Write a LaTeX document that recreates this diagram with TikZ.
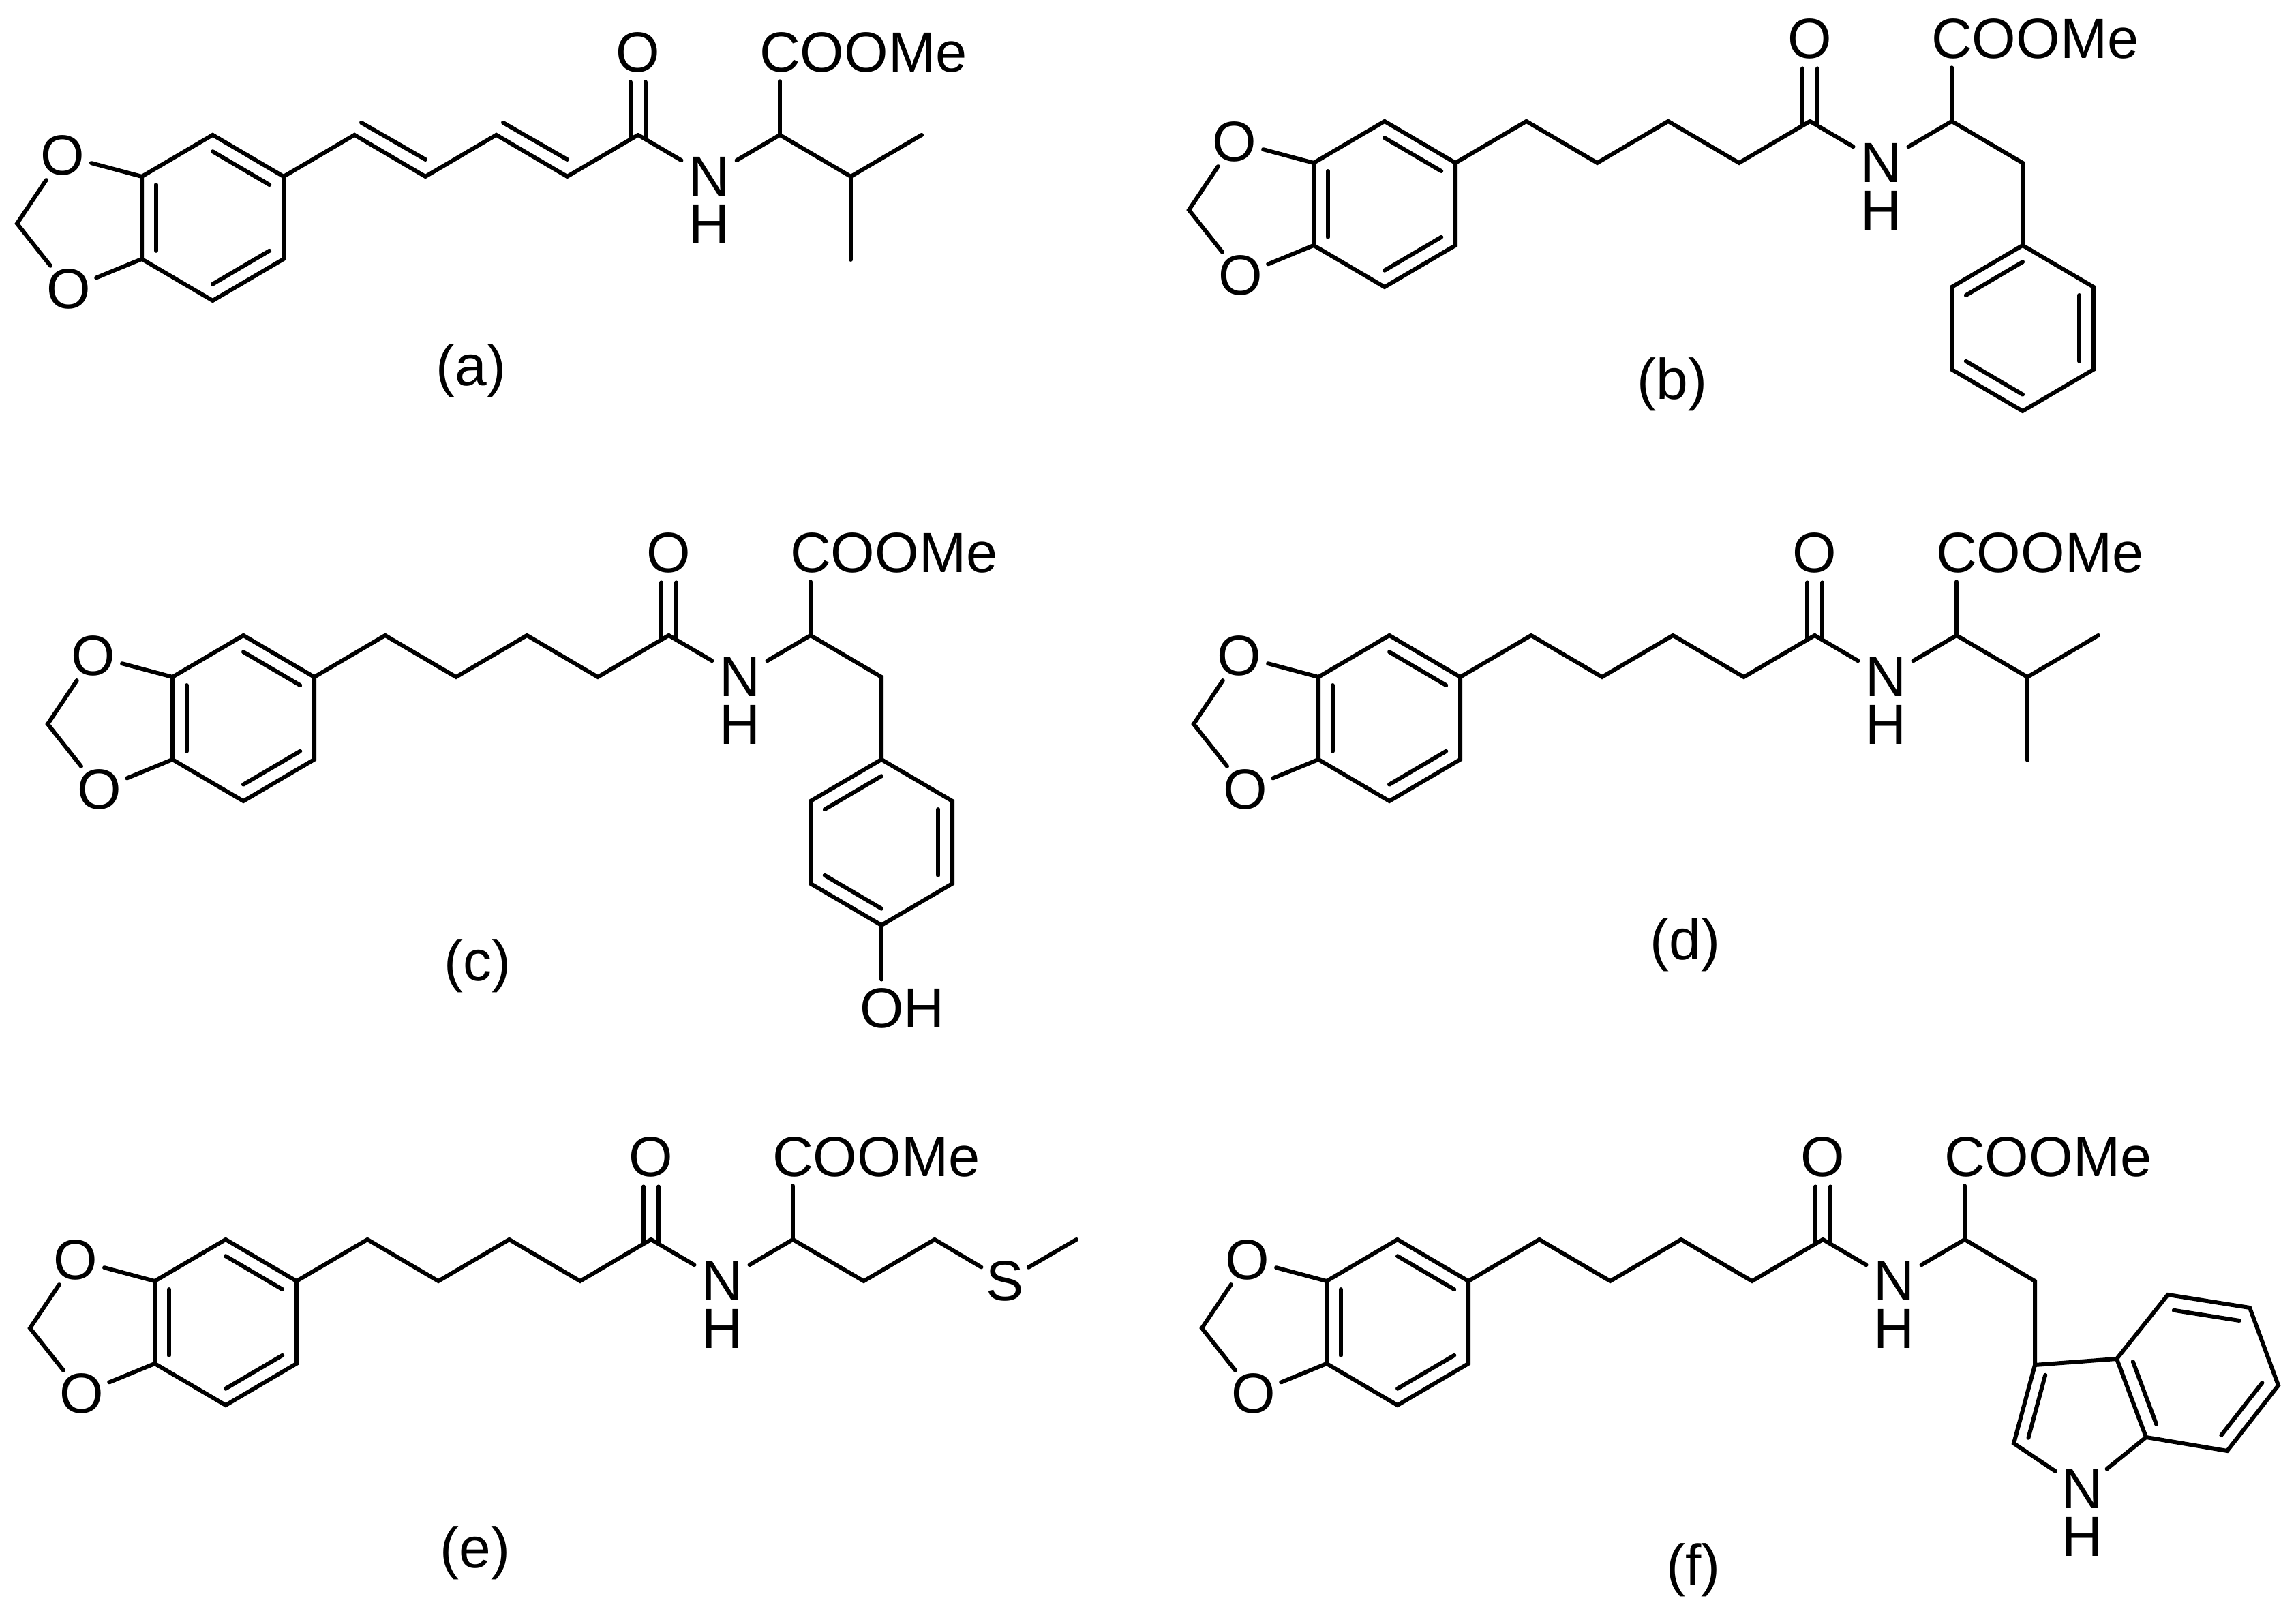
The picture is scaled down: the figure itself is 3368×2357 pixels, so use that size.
\documentclass[tikz,border=0pt]{standalone}
\usepackage{fontspec}
\setmainfont{Liberation Sans}
\usetikzlibrary{calc}

\tikzset{
        atom/.style={circle, inner sep=0pt, outer sep=0pt, font=\fontsize{8.3}{10}\selectfont},
        nitro/.style={atom, inner sep=0.4pt},
        group/.style={rectangle, inner xsep=0pt, inner ysep=1.3pt, outer sep=0pt, font=\fontsize{8.3}{10}\selectfont},
        tag/.style={rectangle, inner sep=0pt, font=\fontsize{8.4}{10}\selectfont},
        bond/.style={draw=black, line width=0.6pt, line cap=round}
}

\newcommand{\innerbond}[3]{\draw[bond] ($(#1)!0.8!(#2)$) -- ($(#1)!0.8!(#3)$);}

\newcommand{\headgroup}{
        \coordinate (ar1) at (0,0);
        \coordinate (ar2) at (104,61);
        \coordinate (ar3) at (208,0);
        \coordinate (ar4) at (208,-121);
        \coordinate (ar5) at (104,-182);
        \coordinate (ar6) at (0,-121);
        \coordinate (arc) at (104,-60.5);
        \coordinate (mth) at (-183,-69);
        \node[atom] (ox1) at (-116,31) {O};
        \node[atom] (ox2) at (-107,-165) {O};
        \draw[bond] (ar1) -- (ar2) -- (ar3) -- (ar4) -- (ar5) -- (ar6) -- cycle;
        \draw[bond] (ar1) -- (ox1);
        \draw[bond] (ar6) -- (ox2);
        \draw[bond] (ox1) -- (mth) -- (ox2);
        \innerbond{arc}{ar1}{ar6}
        \innerbond{arc}{ar2}{ar3}
        \innerbond{arc}{ar4}{ar5}
        \coordinate (ch1) at (312,61);
        \coordinate (ch2) at (416,0);
        \coordinate (ch3) at (520,61);
        \coordinate (ch4) at (624,0);
        \coordinate (cab) at (728,61);
        \coordinate (cal) at (936,61);
        \node[atom] (oxc) at (728,182) {O};
        \node[nitro] (nit) at (832,0) {N};
        \node[atom] (hyd) at (832,-70) {H};
        \node[group, anchor=west] (est) at (906,182) {COOMe};
        \draw[bond] (ar3) -- (ch1) -- (ch2) -- (ch3) -- (ch4) -- (cab);
        \draw[bond] (cab) -- (nit) -- (cal);
        \draw[bond] (cal) -- (cal |- est.south);
        \draw[bond] ([xshift=-1.1pt]oxc.south) -- ([xshift=-1.1pt,yshift=-0.6pt]cab);
        \draw[bond] ([xshift=1.1pt]oxc.south) -- ([xshift=1.1pt,yshift=-0.6pt]cab);
}

\newcommand{\sidering}{
        \coordinate (cbe) at (1040,0);
        \coordinate (ph1) at (1040,-121);
        \coordinate (ph2) at (936,-182);
        \coordinate (ph3) at (936,-303);
        \coordinate (ph4) at (1040,-364);
        \coordinate (ph5) at (1144,-303);
        \coordinate (ph6) at (1144,-182);
        \coordinate (phc) at (1040,-242.5);
        \draw[bond] (cal) -- (cbe) -- (ph1);
        \draw[bond] (ph1) -- (ph2) -- (ph3) -- (ph4) -- (ph5) -- (ph6) -- cycle;
        \innerbond{phc}{ph1}{ph2}
        \innerbond{phc}{ph3}{ph4}
        \innerbond{phc}{ph5}{ph6}
}

\newcommand{\valineend}{
        \coordinate (cbe) at (1040,0);
        \coordinate (me1) at (1144,61);
        \coordinate (me2) at (1040,-122);
        \draw[bond] (cal) -- (cbe) -- (me1);
        \draw[bond] (cbe) -- (me2);
}

\begin{document}
\begin{tikzpicture}[x=0.1pt, y=0.1pt]
        \useasboundingbox (0,0) rectangle (3368,2357);

        \begin{scope}[shift={(208,2098)}, name prefix=a-]
                \headgroup
                \valineend
                \draw[bond] ($(ch1)+(10,18)$) -- ($(ch2)+(0,25)$);
                \draw[bond] ($(ch3)+(10,18)$) -- ($(ch4)+(0,25)$);
        \end{scope}
        \node[tag] (taga) at (691,1813) {(a)};

        \begin{scope}[shift={(1927,2118)}, name prefix=b-]
                \headgroup
                \sidering
        \end{scope}
        \node[tag] (tagb) at (2453,1793.5) {(b)};

        \begin{scope}[shift={(253,1364)}, name prefix=c-]
                \headgroup
                \sidering
                \node[group, anchor=west] (hox) at (1008,-486) {OH};
                \draw[bond] (ph4) -- (ph4 |- hox.north);
        \end{scope}
        \node[tag] (tagc) at (700,940) {(c)};

        \begin{scope}[shift={(1934,1364)}, name prefix=d-]
                \headgroup
                \valineend
        \end{scope}
        \node[tag] (tagd) at (2472,971.5) {(d)};

        \begin{scope}[shift={(227,478)}, name prefix=e-]
                \headgroup
                \coordinate (cbe) at (1040,0);
                \coordinate (cgm) at (1144,61);
                \node[atom] (sul) at (1247,0) {S};
                \coordinate (mes) at (1352,61);
                \draw[bond] (cal) -- (cbe) -- (cgm) -- (sul) -- (mes);
        \end{scope}
        \node[tag] (tage) at (697,79) {(e)};

        \begin{scope}[shift={(1946,478)}, name prefix=f-]
                \headgroup
                \coordinate (cbe) at (1039,0);
                \coordinate (in3) at (1039,-123);
                \coordinate (in4) at (1159,-114);
                \coordinate (in5) at (1234,-20);
                \coordinate (in6) at (1354,-39);
                \coordinate (in7) at (1396,-153);
                \coordinate (in8) at (1321,-249);
                \coordinate (in9) at (1202,-229);
                \coordinate (in2) at (1008,-238);
                \coordinate (inc) at (1277.6,-134);
                \coordinate (inp) at (1115,-197);
                \node[nitro] (nin) at (1108,-305) {N};
                \node[atom] (hin) at (1108,-375) {H};
                \draw[bond] (cal) -- (cbe) -- (in3);
                \draw[bond] (in3) -- (in4) -- (in5) -- (in6) -- (in7) -- (in8) -- (in9) -- (in4);
                \draw[bond] (in3) -- (in2) -- (nin) -- (in9);
                \innerbond{inp}{in3}{in2}
                \innerbond{inc}{in4}{in9}
                \innerbond{inc}{in5}{in6}
                \innerbond{inc}{in7}{in8}
        \end{scope}
        \node[tag] (tagf) at (2484,54) {(f)};
\end{tikzpicture}
\end{document}
